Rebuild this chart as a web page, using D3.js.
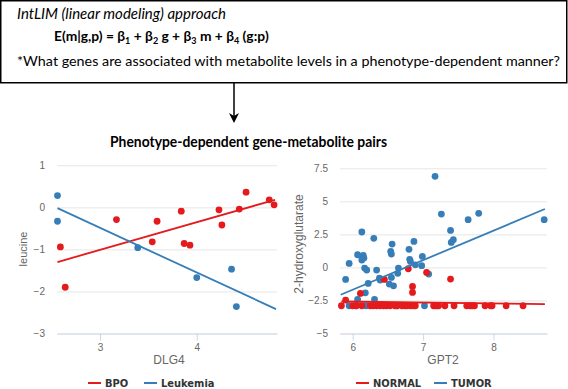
<!DOCTYPE html>
<html lang="en">
<head>
  <meta charset="UTF-8">
  <script src="https://cdn.jsdelivr.net/npm/d3@7"></script>
  <title>IntLIM phenotype-dependent pairs</title>
  <style>
    body { margin: 0; background: #fff; }
    svg { display: block; }
    .top text { font-family: Lato, "Open Sans", sans-serif; fill: #000; }
    .panel text { font-family: "Liberation Sans", Arial, sans-serif; }
    .tick text { fill: #666; font-size: 10px; }
    .grid line { stroke: #e6e6e6; }
    .xax line, .xax path { stroke: #ccd6eb; }
    .legend text { font-family: "Liberation Sans Narrow", "DejaVu Sans Condensed", sans-serif; font-weight: bold; font-size: 11px; fill: #333; }
  </style>
</head>
<body>
<script>
  const width = 568, height = 389;

  // left panel: DLG4 vs leucine
  const bpoX = [2.59, 2.64, 3.17, 3.54, 3.59, 3.84, 3.87, 3.93, 4.23, 4.26, 4.44, 4.51, 4.75, 4.80];
  const bpoY = [-0.94, -1.90, -0.29, -0.82, -0.33, -0.09, -0.86, -0.90, -0.06, -0.42, -0.04, 0.36, 0.18, 0.06];
  const leukX = [2.56, 2.56, 3.39, 4.00, 4.36, 4.41];
  const leukY = [0.28, -0.33, -0.96, -1.67, -1.47, -2.36];
  const bpoFit = [[2.56, -1.30], [4.81, 0.18]];
  const leukFit = [[2.56, -0.02], [4.82, -2.42]];
  const leftXTicks = [3, 4];
  const leftYTicks = [-3, -2, -1, 0, 1];

  // right panel: GPT2 vs 2-hydroxyglutarate
  const tumorX = [7.17, 7.26, 7.64, 7.79, 8.72, 7.39, 7.40, 7.43, 6.13, 6.30, 5.90, 5.95, 6.07, 6.15,
    6.13, 6.16, 6.17, 6.20, 6.34, 6.22, 6.18, 6.07, 6.31, 6.38, 6.39, 6.56, 6.54, 6.55, 6.65, 6.64,
    6.55, 6.52, 6.58, 6.80, 6.87, 6.81, 6.82, 6.89, 6.99, 6.98, 7.08, 5.95, 6.05, 6.19, 6.63, 7.02];
  const tumorY = [6.89, 4.04, 3.61, 4.09, 3.61, 2.80, 1.89, 2.10, 2.68, 2.20, -0.91, 0.30, 0.96, 0.91,
    0.56, 0.71, -0.05, -0.20, -0.20, -1.21, -1.92, -2.42, -2.42, -0.81, -0.96, 1.77, 1.21, 1.01, -0.05, -0.45,
    -0.76, -1.26, -1.39, 1.37, 1.97, 0.61, 0.45, 0.20, 0.83, 0.13, -0.50, -2.90, -2.90, -2.90, -2.90, -2.90];
  const normalX = [6.45, 6.11, 5.90, 6.79, 7.05, 7.39, 6.85, 6.85,
    5.84, 6.00, 6.05, 6.13, 6.25, 6.29, 6.34, 6.39, 6.44, 6.48, 6.53, 6.60, 6.63, 6.70, 6.74, 6.77,
    6.82, 6.86, 6.89, 7.15, 7.18, 7.20, 7.22, 7.31, 7.44, 7.62, 7.67, 7.70, 7.73, 7.88, 7.96, 7.98, 8.18, 8.42];
  const normalY = [-0.91, -1.97, -2.47, -0.10, -0.38, -0.88, -1.44, -1.89,
    -2.90, -2.90, -2.90, -2.90, -2.90, -2.90, -2.90, -2.90, -2.90, -2.90, -2.90, -2.90, -2.90, -2.90, -2.90, -2.90,
    -2.90, -2.90, -2.90, -2.90, -2.90, -2.90, -2.90, -2.90, -2.90, -2.90, -2.90, -2.90, -2.90, -2.90, -2.90, -2.90, -2.90, -2.90];
  const normalFit = [[5.84, -2.58], [8.73, -2.78]];
  const tumorFit = [[5.83, -2.07], [8.73, 4.42]];
  const rightXTicks = [6, 7, 8];
  const rightYTicks = [-5, -2.5, 0, 2.5, 5, 7.5];

  const red = "#e41a1c", blue = "#377eb8";

  const svg = d3.select("body").append("svg")
    .attr("width", width)
    .attr("height", height);

  // top box with the model text
  const header = svg.append("g").attr("class", "top");
  header.append("rect")
    .attr("x", 0.75).attr("y", 0.75)
    .attr("width", 566).attr("height", 82)
    .attr("fill", "none").attr("stroke", "#000").attr("stroke-width", 1.5);
  header.append("text")
    .attr("x", 17).attr("y", 19)
    .attr("font-size", 15).attr("font-style", "italic")
    .attr("textLength", 209).attr("lengthAdjust", "spacingAndGlyphs")
    .text("IntLIM (linear modeling) approach");
  const eq = header.append("text")
    .attr("x", 54).attr("y", 41)
    .attr("font-size", 13.8).attr("font-weight", "bold");
  const eqParts = [["E(m|g,p) = β", ""], ["1", "sub"], [" + β", ""], ["2", "sub"], [" g + β", ""], ["3", "sub"],
    [" m + β", ""], ["4", "sub"], [" (g:p)", ""]];
  let shifted = false;
  eqParts.forEach(p => {
    const sub = !!p[1];
    eq.append("tspan")
      .attr("font-size", sub ? 9 : 13.8)
      .attr("dy", sub ? 3 : (shifted ? -3 : 0))
      .text(p[0]);
    shifted = sub;
  });
  header.append("text")
    .attr("x", 17).attr("y", 66)
    .attr("font-size", 13.5)
    .attr("textLength", 543).attr("lengthAdjust", "spacingAndGlyphs")
    .text("*What genes are associated with metabolite levels in a phenotype-dependent manner?");

  // arrow
  svg.append("line")
    .attr("x1", 234).attr("x2", 234)
    .attr("y1", 83).attr("y2", 118)
    .attr("stroke", "#000").attr("stroke-width", 1.5);
  svg.append("path")
    .attr("d", "M229,113 L234,116 L239,113 L234,123 Z")
    .attr("fill", "#000");

  svg.append("text")
    .attr("x", 110).attr("y", 147)
    .attr("font-family", "Lato, 'Open Sans', sans-serif")
    .attr("font-size", 16).attr("font-weight", "bold")
    .attr("textLength", 277).attr("lengthAdjust", "spacingAndGlyphs")
    .text("Phenotype-dependent gene-metabolite pairs");

  function panel(o) {
    const g = svg.append("g").attr("class", "panel");
    const x = d3.scaleLinear().domain(o.xDomain).range(o.xRange);
    const y = d3.scaleLinear().domain(o.yDomain).range([333.5, o.yTop]);

    g.append("g").attr("class", "grid")
      .attr("transform", `translate(${o.xRange[0]},0)`)
      .call(d3.axisLeft(y).tickValues(o.yTicks).tickFormat(d3.format("~g"))
        .tickSize(-(o.xRange[1] - o.xRange[0])).tickPadding(12))
      .call(a => a.select(".domain").remove());

    g.append("g").attr("class", "xax")
      .attr("transform", "translate(0,333.5)")
      .call(d3.axisBottom(x).tickValues(o.xTicks).tickFormat(d3.format("~g"))
        .tickSize(7).tickSizeOuter(0).tickPadding(3));

    g.append("text")
      .attr("x", o.xTitleX).attr("y", 364)
      .attr("text-anchor", "middle").attr("font-size", o.xTitleSize).attr("fill", "#666")
      .text(o.xTitle);
    g.append("text")
      .attr("transform", `translate(${o.yTitleX},${o.yTitleY}) rotate(-90)`)
      .attr("text-anchor", "middle").attr("font-size", o.yTitleSize).attr("fill", "#666")
      .text(o.yTitle);

    const line = d3.line().x(d => x(d[0])).y(d => y(d[1]));
    o.series.forEach(s => {
      g.append("g").selectAll("circle")
        .data(d3.zip(s.xs, s.ys))
        .join("circle")
        .attr("cx", d => x(d[0])).attr("cy", d => y(d[1]))
        .attr("r", 3.4).attr("fill", s.color);
    });
    o.series.forEach(s => {
      g.append("path")
        .attr("d", line(s.fit))
        .attr("fill", "none").attr("stroke", s.color).attr("stroke-width", 1.8);
    });

    const lg = g.append("g").attr("class", "legend");
    o.series.forEach(s => {
      lg.append("line")
        .attr("x1", s.lx).attr("x2", s.lx + 13)
        .attr("y1", 383).attr("y2", 383)
        .attr("stroke", s.color).attr("stroke-width", 2);
      lg.append("text")
        .attr("x", s.lx + 17).attr("y", 386.5)
        .text(s.name);
    });
  }

  panel({
    xDomain: [2.555, 4.83], xRange: [57, 277], yDomain: [-3, 1], yTop: 165.3,
    xTicks: leftXTicks, yTicks: leftYTicks,
    xTitle: "DLG4", xTitleX: 169, xTitleSize: 12,
    yTitle: "leucine", yTitleX: 27, yTitleY: 249, yTitleSize: 11,
    series: [
      { name: "BPO", xs: bpoX, ys: bpoY, fit: bpoFit, color: red, lx: 88 },
      { name: "Leukemia", xs: leukX, ys: leukY, fit: leukFit, color: blue, lx: 144 }
    ]
  });

  panel({
    xDomain: [5.82, 8.76], xRange: [340, 547], yDomain: [-5, 7.5], yTop: 168.3,
    xTicks: rightXTicks, yTicks: rightYTicks,
    xTitle: "GPT2", xTitleX: 443, xTitleSize: 12,
    yTitle: "2-hydroxyglutarate", yTitleX: 303, yTitleY: 244, yTitleSize: 12,
    series: [
      { name: "TUMOR", xs: tumorX, ys: tumorY, fit: tumorFit, color: blue, lx: 434 },
      { name: "NORMAL", xs: normalX, ys: normalY, fit: normalFit, color: red, lx: 356 }
    ]
  });
</script>
</body>
</html>
